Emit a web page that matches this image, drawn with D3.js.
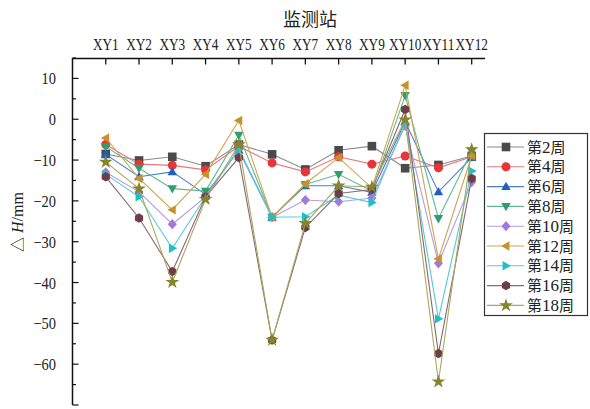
<!DOCTYPE html>
<html><head><meta charset="utf-8">
<script src="https://cdn.jsdelivr.net/npm/d3@7"></script>
<style>body{margin:0;background:#fff}svg{display:block}</style>
</head><body>
<script>
const stations = ["XY1","XY2","XY3","XY4","XY5","XY6","XY7","XY8","XY9","XY10","XY11","XY12"];
const seriesNames = ["第2周","第4周","第6周","第8周","第10周","第12周","第14周","第16周","第18周"];
const week2  = [-8.5,-10.1,-9.2,-11.5,-6.2,-8.6,-12.3,-7.6,-6.6,-12.0,-11.2,-9.0];
const week4  = [-6.2,-11.0,-11.3,-12.4,-6.6,-10.7,-12.9,-9.2,-11.0,-9.0,-11.9,-9.2];
const week6  = [-8.6,-14.1,-12.9,-18.4,-7.6,-24.0,-16.3,-16.3,-17.9,-0.6,-17.8,-9.4];
const week8  = [-6.7,-12.0,-17.0,-17.6,-3.9,-24.0,-16.0,-13.5,-17.6,5.8,-24.3,-7.8];
const week10 = [-13.0,-17.8,-25.7,-19.0,-7.2,-24.0,-19.8,-20.2,-19.3,-1.6,-35.3,-15.4];
const week12 = [-4.6,-14.5,-22.2,-13.5,-0.3,-24.0,-15.8,-9.4,-16.8,8.3,-34.2,-9.0];
const week14 = [-13.5,-19.0,-31.6,-19.0,-7.4,-24.0,-23.9,-18.6,-20.4,-0.9,-48.9,-12.7];
const week16 = [-14.1,-24.2,-37.3,-19.0,-9.4,-54.1,-26.5,-18.2,-17.2,2.4,-57.4,-14.5];
const week18 = [-10.5,-17.0,-39.9,-19.6,-6.2,-54.1,-25.5,-16.3,-16.6,-0.1,-64.3,-7.4];
const yTicks = [10,0,-10,-20,-30,-40,-50,-60];

const allSeries = [week2,week4,week6,week8,week10,week12,week14,week16,week18];
const markerColors = ["#4a4a4a","#e8353a","#1f5fc0","#2f9e6e","#a07ad8","#c8922a","#1fbfc8","#6e3e48","#85852c"];
const lineColors   = ["#8a8a8a","#e87878","#4a7fcc","#60b898","#b89ae0","#cfa550","#50cdd4","#8e6670","#a8a860"];
const shapes = ["square","circle","tri-up","tri-down","diamond","tri-left","tri-right","hex","star"];

const W=590,H=409;
const svg=d3.select("body").append("svg").attr("width",W).attr("height",H);
const x=d3.scaleLinear().domain([0,12.4]).range([72.5,485]);
const y=d3.scaleLinear().domain([-70,15]).range([405,58]);
const serif="'Liberation Serif','Times New Roman',serif";
const cjk="'Noto Sans CJK SC','Liberation Serif',serif";

// title
svg.append("text").attr("x",310).attr("y",26).attr("text-anchor","middle")
  .attr("font-family",cjk).attr("font-size",18).attr("fill","#222").text("监测站");

// top axis
const topAxis=svg.append("g");
topAxis.append("line").attr("x1",72.5).attr("x2",485).attr("y1",58.5).attr("y2",58.5).attr("stroke","#111").attr("stroke-width",1.3);
stations.forEach((s,i)=>{
  const px=x(i+1);
  topAxis.append("line").attr("x1",px).attr("x2",px).attr("y1",58.5).attr("y2",64.5).attr("stroke","#111").attr("stroke-width",1.3);
  topAxis.append("text").attr("transform",`translate(${px},50) scale(0.78,1)`).attr("text-anchor","middle")
    .attr("font-family",serif).attr("font-size",17).attr("fill","#222").text(s);
});

// left axis
const leftAxis=svg.append("g");
leftAxis.append("line").attr("x1",72.5).attr("x2",72.5).attr("y1",58).attr("y2",405).attr("stroke","#111").attr("stroke-width",1.5);
d3.range(-70,15.1,5).forEach(v=>{
  const major=v%10===0;
  leftAxis.append("line").attr("x1",72.5).attr("x2",major?78.5:76).attr("y1",y(v)).attr("y2",y(v)).attr("stroke","#111").attr("stroke-width",1.2);
});
yTicks.forEach(v=>{
  leftAxis.append("text").attr("transform",`translate(56,${y(v)+6}) scale(0.85,1)`).attr("text-anchor","end")
    .attr("font-family",serif).attr("font-size",17).attr("fill","#222").text(v<0?"\u2212"+Math.abs(v):v);
});
// y title
const yt=svg.append("text").attr("transform","translate(23,222) rotate(-90)").attr("text-anchor","middle")
  .attr("font-family",serif).attr("font-size",16).attr("fill","#222");
yt.append("tspan").attr("font-family",cjk).attr("font-size",15).text("△");
yt.append("tspan").attr("font-style","italic").text(" H");
yt.append("tspan").text("/mm");

function shapePath(shape,r){
  switch(shape){
    case "square": return `M${-r},${-r}H${r}V${r}H${-r}Z`;
    case "circle": return d3.symbol(d3.symbolCircle,Math.PI*r*r*1.1)();
    case "tri-up": return `M0,${-r*1.15}L${r*1.1},${r*0.8}L${-r*1.1},${r*0.8}Z`;
    case "tri-down": return `M0,${r*1.15}L${r*1.1},${-r*0.8}L${-r*1.1},${-r*0.8}Z`;
    case "tri-left": return `M${-r*1.15},0L${r*0.8},${-r*1.1}L${r*0.8},${r*1.1}Z`;
    case "tri-right": return `M${r*1.15},0L${-r*0.8},${-r*1.1}L${-r*0.8},${r*1.1}Z`;
    case "diamond": return `M0,${-r*1.2}L${r*1.05},0L0,${r*1.2}L${-r*1.05},0Z`;
    case "hex": { const p=d3.range(6).map(k=>{const a=Math.PI/3*k+Math.PI/6;return [r*1.1*Math.cos(a),r*1.1*Math.sin(a)];}); return "M"+p.join("L")+"Z"; }
    case "star": return d3.symbol(d3.symbolStar,r*r*3.2)();
  }
}

const line=d3.line().x((d,i)=>x(i+1)).y(d=>y(d));
const plot=svg.append("g");
allSeries.forEach((vals,si)=>{
  const g=plot.append("g");
  g.append("path").attr("d",line(vals)).attr("fill","none").attr("stroke",lineColors[si]).attr("stroke-width",1.1);
  g.selectAll("path.m").data(vals).enter().append("path").attr("class","m")
    .attr("transform",(d,i)=>`translate(${x(i+1)},${y(d)})`)
    .attr("d",shapePath(shapes[si],4.3)).attr("fill",markerColors[si]);
});

// legend
const lg=svg.append("g");
lg.append("rect").attr("x",484.5).attr("y",133.5).attr("width",103).attr("height",182).attr("fill","#fff").attr("stroke","#333").attr("stroke-width",1.2);
seriesNames.forEach((n,i)=>{
  const cy=147+i*19.8;
  lg.append("line").attr("x1",487).attr("x2",524).attr("y1",cy).attr("y2",cy).attr("stroke",lineColors[i]).attr("stroke-width",1.1);
  lg.append("path").attr("transform",`translate(506,${cy})`).attr("d",shapePath(shapes[i],4.3)).attr("fill",markerColors[i]);
  const t=lg.append("text").attr("x",527).attr("y",cy+5.5).attr("font-size",15).attr("fill","#222").attr("font-family",cjk);
  const m=n.match(/^(第)(\d+)(周)$/);
  t.append("tspan").text(m[1]);
  t.append("tspan").attr("font-family",serif).attr("font-size",17).text(m[2]);
  t.append("tspan").text(m[3]);
});
</script>
</body></html>
